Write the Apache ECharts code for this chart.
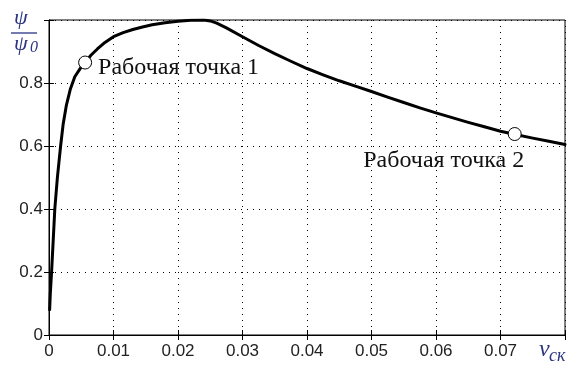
<!DOCTYPE html>
<html><head><meta charset="utf-8">
<script src="https://cdn.jsdelivr.net/npm/echarts@6/dist/echarts.min.js"></script>
<style>html,body{margin:0;padding:0;background:#fff}#c{width:585px;height:370px}</style>
</head><body><div id="c"></div>
<script>
// curve data (v_ck, psi/psi0)
var curveX = [0.0001,0.0002,0.0004,0.0006,0.0009,0.0013,0.0018,0.0022,0.0027,0.0033,0.0040,0.0048,0.0056,0.0065,0.0075,0.0085,0.0100,0.0115,0.0130,0.0145,0.0160,0.0180,0.0200,0.0220,0.0240,0.0250,0.0260,0.0275,0.0300,0.0325,0.0350,0.0375,0.0400,0.0425,0.0450,0.0475,0.0500,0.0525,0.0550,0.0575,0.0600,0.0625,0.0650,0.0675,0.0700,0.0725,0.0750,0.0775,0.0800];
var curveY = [0.08,0.13,0.20,0.28,0.40,0.50,0.60,0.67,0.73,0.78,0.82,0.845,0.865,0.888,0.908,0.926,0.947,0.960,0.970,0.978,0.985,0.991,0.996,0.999,1.000,0.997,0.990,0.975,0.947,0.919,0.893,0.869,0.846,0.826,0.807,0.790,0.773,0.755,0.738,0.721,0.705,0.690,0.675,0.661,0.647,0.636,0.625,0.615,0.605];
var pointX = [0.0056, 0.0722];
var pointY = [0.865, 0.638];
var pointNames = ['Рабочая точка 1', 'Рабочая точка 2'];
var xTickLabels = ['0','0.01','0.02','0.03','0.04','0.05','0.06','0.07',''];
var yTickLabels = ['0','0.2','0.4','0.6','0.8',''];

var curve = curveX.map(function(x,i){return [x, curveY[i]];});

var tickFont = {fontFamily:'Liberation Sans Narrow, Arial Narrow, Liberation Sans, sans-serif', fontSize:17, color:'#222'};
var labelColor = '#2b3580';
var ptLabel = {show:true,formatter:'{b}',fontFamily:'Liberation Serif, Times New Roman, serif',fontSize:24,color:'#111',opacity:1};
var labelPos = [
  {position:'right',distance:6,offset:[0,5]},
  {position:'bottom',distance:6,offset:[-71,2]}
];
var pts = pointX.map(function(x,i){
  return {value:[x, pointY[i]], name: pointNames[i], label:Object.assign({}, ptLabel, labelPos[i])};
});

var chart = echarts.init(document.getElementById('c'), null, {renderer:'canvas'});
chart.setOption({
  animation:false,
  backgroundColor:'#fff',
  grid:{left:49,right:20,top:20,bottom:35,show:true,borderColor:'#000',borderWidth:1,backgroundColor:'transparent'},
  xAxis:[{
    type:'value',min:0,max:0.08,interval:0.01,
    axisLine:{show:true,onZero:false,lineStyle:{color:'#000',width:1}},
    axisTick:{show:true,inside:true,length:5,lineStyle:{color:'#000'}},
    axisLabel:Object.assign({margin:8,formatter:function(v){return xTickLabels[Math.round(v/0.01)];}}, tickFont),
    splitLine:{show:true,lineStyle:{color:'#000',width:1,type:[1,5]}}
  },{
    type:'value',position:'top',min:0,max:0.08,interval:0.01,
    axisLine:{show:true,lineStyle:{color:'#000'}},
    axisTick:{show:true,inside:true,length:5,lineStyle:{color:'#000'}},
    axisLabel:{show:false},splitLine:{show:false}
  }],
  yAxis:[{
    type:'value',min:0,max:1,interval:0.2,
    axisLine:{show:true,onZero:false,lineStyle:{color:'#000',width:1}},
    axisTick:{show:true,inside:true,length:5,lineStyle:{color:'#000'}},
    axisLabel:Object.assign({margin:6,formatter:function(v){return yTickLabels[Math.round(v/0.2)];}}, tickFont),
    splitLine:{show:true,lineStyle:{color:'#000',width:1,type:[1,5]}}
  },{
    type:'value',position:'right',min:0,max:1,interval:0.2,
    axisLine:{show:true,lineStyle:{color:'#000'}},
    axisTick:{show:true,inside:true,length:5,lineStyle:{color:'#000'}},
    axisLabel:{show:false},splitLine:{show:false}
  }],
  series:[{
    type:'line',data:curve,showSymbol:false,smooth:false,
    lineStyle:{color:'#000',width:3,join:'round',cap:'round'},clip:true,z:2
  },{
    type:'scatter',data:pts,symbol:'circle',symbolSize:13,
    itemStyle:{color:'#fff',borderColor:'#000',borderWidth:1,opacity:1},
    emphasis:{disabled:true},
    z:5
  }],
  graphic:[
    {type:'text',left:14,top:7,style:{text:'ψ',font:'italic 22px "Liberation Serif", serif',fill:labelColor}},
    {type:'line',shape:{x1:11,y1:33,x2:37,y2:33},style:{stroke:labelColor,lineWidth:1.3}},
    {type:'text',left:14,top:33,style:{text:'ψ',font:'italic 22px "Liberation Serif", serif',fill:labelColor}},
    {type:'text',left:30,top:40,style:{text:'0',font:'italic 16px "Liberation Serif", serif',fill:labelColor}},
    {type:'text',left:539,top:338,style:{text:'v',font:'italic 24px "Liberation Serif", serif',fill:labelColor}},
    {type:'text',left:549,top:347,style:{text:'ск',font:'italic 18px "Liberation Serif", serif',fill:labelColor}}
  ]
});
</script></body></html>
